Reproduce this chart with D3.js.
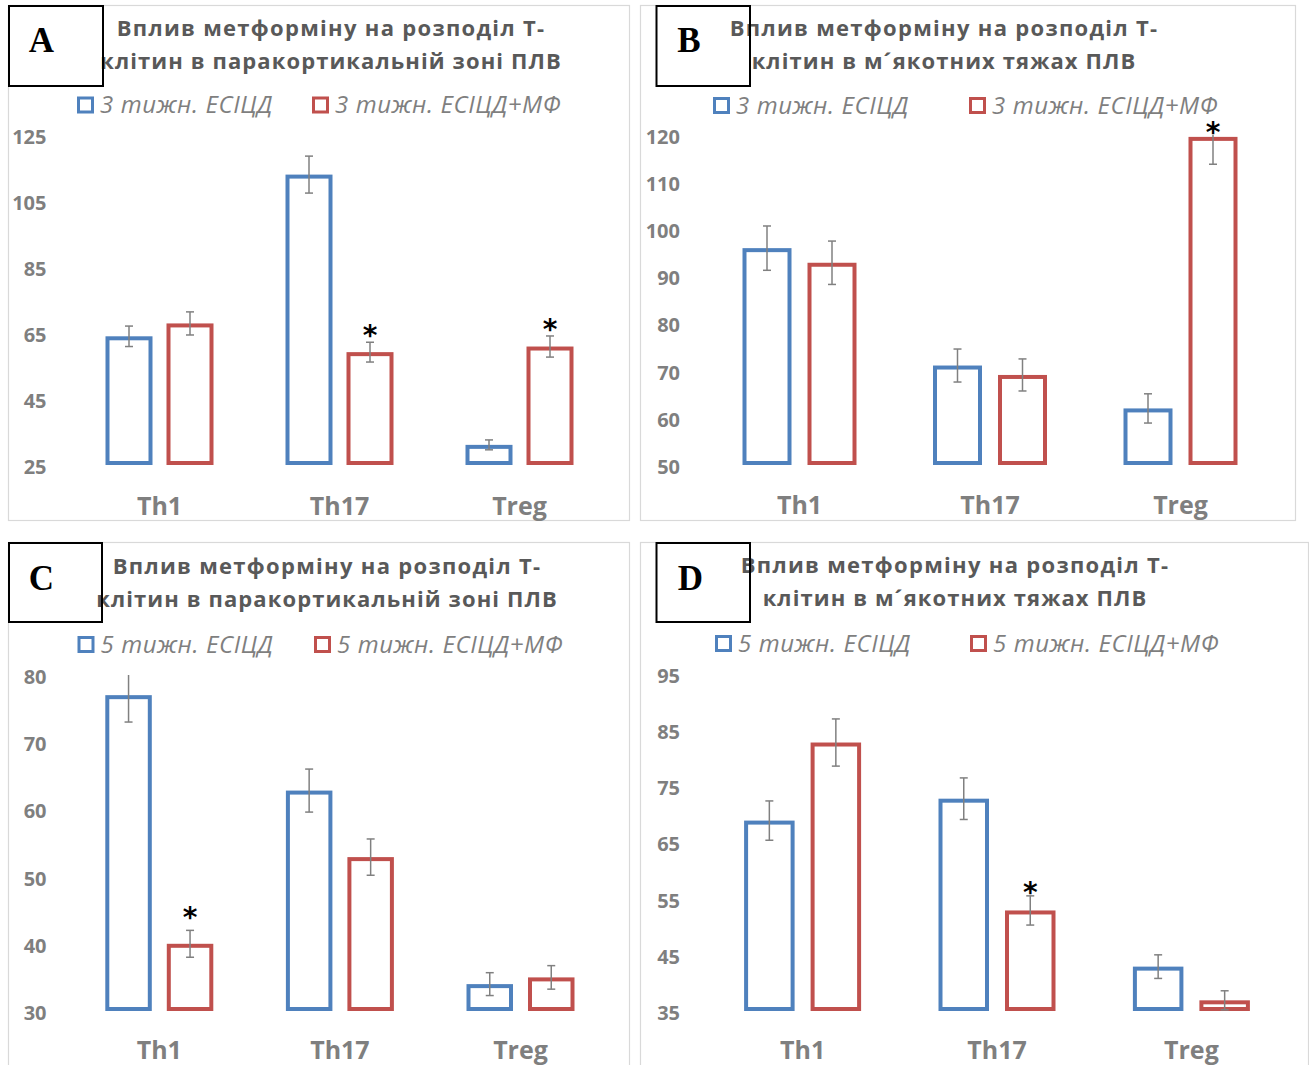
<!DOCTYPE html>
<html>
<head>
<meta charset="utf-8">
<script src="https://cdn.jsdelivr.net/npm/d3@7"></script>
<style>
  body { margin: 0; background: #fff; }
  svg { display: block; }
</style>
</head>
<body>
<svg id="chart" width="1309" height="1065"></svg>
<script>
// ---------------- DATA ----------------
const categories = ["Th1", "Th17", "Treg"];
const panelLetters = ["A", "B", "C", "D"];
const titleLine1 = "Вплив метформіну на розподіл Т-";
const titleLine2 = [
  "клітин в паракортикальній зоні ПЛВ",
  "клітин в м´якотних тяжах ПЛВ",
  "клітин в паракортикальній зоні ПЛВ",
  "клітин в м´якотних тяжах ПЛВ"
];
const seriesNames3 = ["3 тижн. ЕСІЦД", "3 тижн. ЕСІЦД+МФ"];
const seriesNames5 = ["5 тижн. ЕСІЦД", "5 тижн. ЕСІЦД+МФ"];

// Panel A – 3 weeks, paracortical zone
const aControl = [64.0, 113.0, 31.1];
const aControlErr = [3.1, 5.6, 1.5];
const aMetformin = [67.9, 59.2, 60.9];
const aMetforminErr = [3.5, 3.0, 3.2];
const aTicks = [25, 45, 65, 85, 105, 125];
const aStars = [{ cat: "Th17", series: 1, at: 65.8 }, { cat: "Treg", series: 1, at: 67.6 }];

// Panel B – 3 weeks, medullary cords
const bControl = [96.0, 71.1, 62.0];
const bControlErr = [4.7, 3.5, 3.1];
const bMetformin = [92.9, 69.1, 119.6];
const bMetforminErr = [4.6, 3.4, 5.8];
const bTicks = [50, 60, 70, 80, 90, 100, 110, 120];
const bStars = [{ cat: "Treg", series: 1, at: 121.6 }];

// Panel C – 5 weeks, paracortical zone
const cControl = [77.0, 62.8, 34.0];
const cControlErr = [4.0, 3.2, 1.7];
const cMetformin = [40.0, 52.9, 35.0];
const cMetforminErr = [2.0, 2.7, 1.75];
const cTicks = [30, 40, 50, 60, 70, 80];
const cStars = [{ cat: "Th1", series: 1, at: 44.7 }];

// Panel D – 5 weeks, medullary cords
const dControl = [68.9, 72.8, 42.9];
const dControlErr = [3.5, 3.7, 2.1];
const dMetformin = [82.8, 52.9, 36.9];
const dMetforminErr = [4.2, 2.6, 1.7];
const dTicks = [35, 45, 55, 65, 75, 85, 95];
const dStars = [{ cat: "Th17", series: 1, at: 57.0 }];

// ---------------- LAYOUT / STYLE ----------------
const seriesColors = ["#4f81bd", "#c0504d"];
const panels = [
  { letter: panelLetters[0], line2: titleLine2[0], names: seriesNames3,
    values: [aControl, aMetformin], errs: [aControlErr, aMetforminErr], ticks: aTicks, stars: aStars,
    frame: [8, 5, 629, 520], box: [8, 5, 103, 86], letterXY: [41.5, 52],
    yRange: [465, 135], c0: 159.5, step: 180, barW: 47, gap: 14,
    titleX: 331, titleY: [35.5, 68.5], legY: 105, legX: [77, 312], tickX: 46.5, catY: 515 },
  { letter: panelLetters[1], line2: titleLine2[1], names: seriesNames3,
    values: [bControl, bMetformin], errs: [bControlErr, bMetforminErr], ticks: bTicks, stars: bStars,
    frame: [640, 5, 1295, 520], box: [655.5, 5, 750, 86], letterXY: [689, 52],
    yRange: [465, 135], c0: 799.5, step: 190.5, barW: 49, gap: 16,
    titleX: 944, titleY: [35.5, 68.5], legY: 105.5, legX: [713, 969], tickX: 680, catY: 514 },
  { letter: panelLetters[2], line2: titleLine2[2], names: seriesNames5,
    values: [cControl, cMetformin], errs: [cControlErr, cMetforminErr], ticks: cTicks, stars: cStars,
    frame: [8, 542, 629, 1090], box: [8, 542, 102, 622], letterXY: [41.5, 589.5],
    yRange: [1011, 675], c0: 159.3, step: 180.6, barW: 46.5, gap: 15,
    titleX: 327, titleY: [573.5, 607], legY: 644.5, legX: [77.5, 314], tickX: 46.5, catY: 1059 },
  { letter: panelLetters[3], line2: titleLine2[3], names: seriesNames5,
    values: [dControl, dMetformin], errs: [dControlErr, dMetforminErr], ticks: dTicks, stars: dStars,
    frame: [640, 542, 1308, 1090], box: [655.5, 542, 750, 622], letterXY: [690.5, 589.5],
    yRange: [1011, 674], c0: 802.6, step: 194.4, barW: 50.5, gap: 16,
    titleX: 955, titleY: [573, 605.5], legY: 643.5, legX: [715, 970], tickX: 680, catY: 1059 }
];

const svg = d3.select("#chart");
svg.append("rect").attr("width", 1309).attr("height", 1065).attr("fill", "#fff");

const SW = 4; // bar outline width

panels.forEach(p => {
  const g = svg.append("g");
  const [fx0, fy0, fx1, fy1] = p.frame;
  g.append("rect").attr("x", fx0 + 0.5).attr("y", fy0 + 0.5)
    .attr("width", fx1 - fx0).attr("height", fy1 - fy0)
    .attr("fill", "#fff").attr("stroke", "#d9d9d9").attr("stroke-width", 1.2);

  const y = d3.scaleLinear().domain([p.ticks[0], p.ticks[p.ticks.length - 1]]).range(p.yRange);
  const ymax = p.ticks[p.ticks.length - 1];
  const base = p.ticks[0];
  const x = d3.scaleBand().domain(categories)
    .range([p.c0 - p.step / 2, p.c0 + p.step * 2.5]).padding(0);
  const half = p.barW + p.gap / 2;
  const xs = d3.scaleBand().domain([0, 1]).range([-half, half])
    .paddingInner(p.gap / (p.barW + p.gap)).paddingOuter(0);

  // Y axis labels
  const yAxis = d3.axisLeft(y).tickValues(p.ticks).tickSize(0).tickPadding(0);
  const ya = g.append("g").attr("transform", `translate(${p.tickX},0)`).call(yAxis);
  ya.select(".domain").remove();
  ya.selectAll("text").attr("font-family", "'Open Sans', sans-serif").attr("font-weight", "bold")
    .attr("font-size", 20).attr("fill", "#7f7f7f").attr("dy", "0.42em");

  // Category labels
  const xAxis = d3.axisBottom(x).tickSize(0).tickPadding(0);
  const xa = g.append("g").attr("transform", `translate(0,${p.catY})`).call(xAxis);
  xa.select(".domain").remove();
  xa.selectAll("text").attr("y", 0).attr("dy", 0)
    .attr("font-family", "'Open Sans', sans-serif").attr("font-weight", "bold")
    .attr("font-size", 25).attr("fill", "#7f7f7f");

  // Bars
  const rows = [];
  p.values.forEach((arr, s) => arr.forEach((v, i) => rows.push({ cat: categories[i], s, v, e: p.errs[s][i] })));
  const bx = d => x(d.cat) + x.bandwidth() / 2 + xs(d.s);
  g.selectAll("rect.bar").data(rows).join("rect").attr("class", "bar")
    .attr("x", d => bx(d) + SW / 2)
    .attr("y", d => y(d.v) + SW / 2)
    .attr("width", xs.bandwidth() - SW)
    .attr("height", d => y(base) - y(d.v) - SW)
    .attr("fill", "#fff").attr("stroke", d => seriesColors[d.s]).attr("stroke-width", SW);

  // Error bars
  const eg = g.append("g").attr("stroke", "#808080").attr("stroke-width", 1.5);
  rows.forEach(d => {
    const cx = bx(d) + xs.bandwidth() / 2;
    const top = Math.min(d.v + d.e, ymax);
    const bot = d.v - d.e;
    eg.append("line").attr("x1", cx).attr("x2", cx).attr("y1", y(top)).attr("y2", y(bot));
    if (d.v + d.e <= ymax) eg.append("line").attr("x1", cx - 4).attr("x2", cx + 4).attr("y1", y(top)).attr("y2", y(top));
    eg.append("line").attr("x1", cx - 4).attr("x2", cx + 4).attr("y1", y(bot)).attr("y2", y(bot));
  });

  // Significance asterisks
  p.stars.forEach(st => {
    const cx = x(st.cat) + x.bandwidth() / 2 + xs(st.series) + xs.bandwidth() / 2;
    g.append("text").attr("x", cx).attr("y", y(st.at) + 15)
      .attr("text-anchor", "middle").attr("font-family", "'DejaVu Sans', sans-serif")
      .attr("font-weight", "bold").attr("font-size", 28).attr("fill", "#000").text("*");
  });

  // Title
  const tg = g.append("g").attr("font-family", "'Open Sans', sans-serif").attr("font-weight", "bold")
    .attr("font-size", 22).attr("fill", "#595959").attr("text-anchor", "middle");
  tg.append("text").attr("x", p.titleX).attr("y", p.titleY[0]).attr("letter-spacing", 1.3).text(titleLine1);
  tg.append("text").attr("x", p.titleX).attr("y", p.titleY[1]).attr("letter-spacing", 1.1).text(p.line2);

  // Legend
  p.names.forEach((name, s) => {
    const lx = p.legX[s];
    g.append("rect").attr("x", lx + 1.5).attr("y", p.legY - 7).attr("width", 14).attr("height", 14)
      .attr("fill", "#fff").attr("stroke", seriesColors[s]).attr("stroke-width", 3);
    g.append("text").attr("x", lx + 23).attr("y", p.legY + 8)
      .attr("font-family", "'Open Sans', sans-serif").attr("font-style", "italic")
      .attr("font-size", 24).attr("letter-spacing", 0.6).attr("fill", "#7f7f7f").text(name);
  });

  // Letter box
  const [bx0, by0, bx1, by1] = p.box;
  g.append("rect").attr("x", bx0 + 1).attr("y", by0 + 1).attr("width", bx1 - bx0 - 1).attr("height", by1 - by0 - 1)
    .attr("fill", "none").attr("stroke", "#000").attr("stroke-width", 2);
  g.append("text").attr("x", p.letterXY[0]).attr("y", p.letterXY[1])
    .attr("text-anchor", "middle").attr("font-family", "'Liberation Serif', serif")
    .attr("font-weight", "bold").attr("font-size", 35).attr("fill", "#000").text(p.letter);
});
</script>
</body>
</html>
